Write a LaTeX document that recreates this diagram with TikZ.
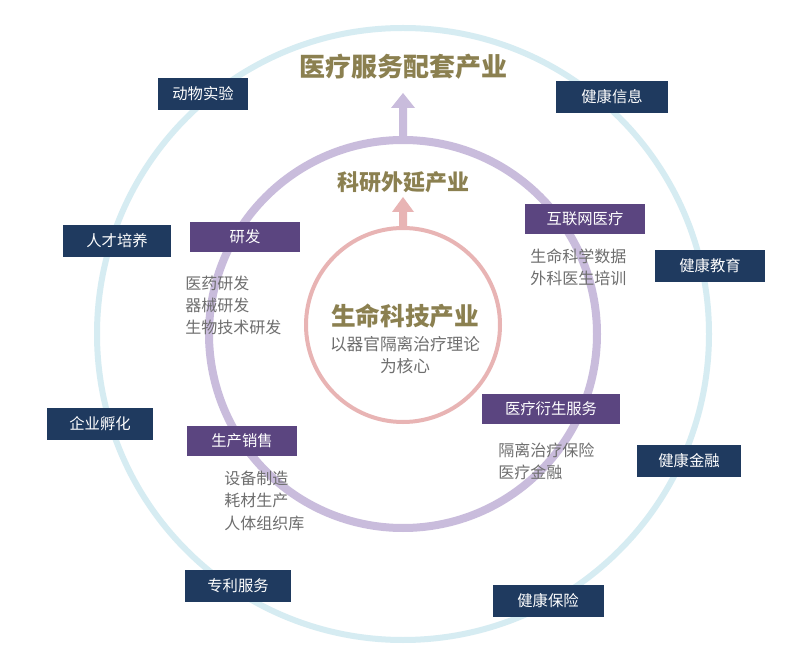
\documentclass[tikz,border=0pt]{standalone}
\usepackage{fontspec}
\setmainfont{Noto Sans CJK SC}
\begin{document}
\begin{tikzpicture}[x=0.75pt,y=-0.75pt,
 navy/.style={fill=navy,text=white,minimum height=32*0.75pt,inner sep=0pt,font=\fontsize{11.5}{13}\selectfont},
 purp/.style={fill=purpbox,text=white,minimum height=30*0.75pt,inner sep=0pt,font=\fontsize{11.5}{13}\selectfont},
 gray/.style={text=txtgray,anchor=west,inner sep=0pt,font=\fontsize{12}{13}\selectfont},
 title/.style={text=olive,inner sep=0pt,font=\bfseries}]
\definecolor{navy}{HTML}{1F3A5F}
\definecolor{purpbox}{HTML}{5B4580}
\definecolor{txtgray}{HTML}{6E6E6E}
\definecolor{olive}{HTML}{8B8050}
\definecolor{ringblue}{HTML}{D6ECF2}
\definecolor{ringpurp}{HTML}{C9BCDC}
\definecolor{ringpink}{HTML}{E8B4B4}
\useasboundingbox (0,0) rectangle (800,645);
\fill[white] (0,0) rectangle (800,645);
\coordinate (c) at (403,334);
\draw[ringblue,line width=4.5pt] (c) circle[radius=306];
\draw[ringpurp,line width=6pt] (c) circle[radius=194];
\draw[ringpink,line width=3pt] (403,325) circle[radius=97];
% arrows
\fill[ringpurp] (399,141) -- (399,108) -- (391,108) -- (403,93) -- (415,108) -- (407,108) -- (407,141) -- cycle;
\fill[ringpink] (399,229) -- (399,212) -- (392,212) -- (403,197) -- (414,212) -- (407,212) -- (407,229) -- cycle;
% titles
\node[title,font=\fontsize{19.5}{20}\selectfont\bfseries] (t1) at (403,67) {医疗服务配套产业};
\node[title,font=\fontsize{16.5}{17}\selectfont\bfseries] (t2) at (403,182) {科研外延产业};
\node[title,font=\fontsize{18.5}{19}\selectfont\bfseries] (t3) at (405,316) {生命科技产业};
\node[text=txtgray,font=\fontsize{12.5}{16.5}\selectfont,align=center] (t4) at (405,355) {以器官隔离治疗理论\\为核心};
% outer boxes
\node[navy,minimum width=90*0.75pt] (a1) at (203,94) {动物实验};
\node[navy,minimum width=112*0.75pt] (a2) at (612,97) {健康信息};
\node[navy,minimum width=108*0.75pt] (a3) at (117,241) {人才培养};
\node[navy,minimum width=110*0.75pt] (a4) at (710,266) {健康教育};
\node[navy,minimum width=106*0.75pt] (a5) at (100,424) {企业孵化};
\node[navy,minimum width=104*0.75pt] (a6) at (689,461) {健康金融};
\node[navy,minimum width=106*0.75pt] (a7) at (238,586) {专利服务};
\node[navy,minimum width=111*0.75pt] (a8) at (548,601) {健康保险};
% purple boxes
\node[purp,minimum width=110*0.75pt] (p1) at (245,237) {研发};
\node[purp,minimum width=120*0.75pt] (p2) at (585,219) {互联网医疗};
\node[purp,minimum width=138*0.75pt] (p3) at (551,409) {医疗衍生服务};
\node[purp,minimum width=110*0.75pt] (p4) at (242,441) {生产销售};
% gray lists
\node[gray] (g1) at (185,283) {医药研发};
\node[gray] (g2) at (185,305) {器械研发};
\node[gray] (g3) at (185,327) {生物技术研发};
\node[gray] (g4) at (530,256) {生命科学数据};
\node[gray] (g5) at (530,278) {外科医生培训};
\node[gray] (g6) at (498,450) {隔离治疗保险};
\node[gray] (g7) at (498,472) {医疗金融};
\node[gray] (g8) at (224,478) {设备制造};
\node[gray] (g9) at (224,500) {耗材生产};
\node[gray] (g10) at (224,523) {人体组织库};
\end{tikzpicture}
\end{document}
